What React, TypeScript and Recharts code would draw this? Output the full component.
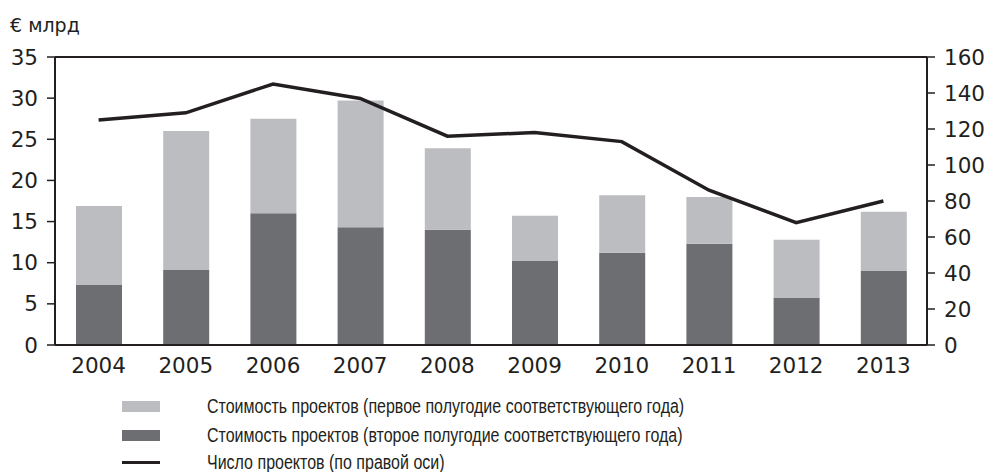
import { ComposedChart, Bar, Line, XAxis, YAxis, ReferenceLine } from 'recharts';

const years = ['2004', '2005', '2006', '2007', '2008', '2009', '2010', '2011', '2012', '2013'];
// € млрд, второе полугодие (нижняя часть столбца)
const secondHalf = [7.3, 9.1, 16.0, 14.3, 14.0, 10.2, 11.2, 12.3, 5.7, 9.0];
// € млрд, первое полугодие (верхняя часть столбца)
const firstHalf = [9.6, 16.9, 11.5, 15.4, 9.9, 5.5, 7.0, 5.7, 7.1, 7.2];
// число проектов, правая ось
const projectCount = [125, 129, 145, 137, 116, 118, 113, 86, 68, 80];

const leftTicks = [0, 5, 10, 15, 20, 25, 30, 35];
const rightTicks = [0, 20, 40, 60, 80, 100, 120, 140, 160];

const DARK = '#6d6e72';
const LIGHT = '#bcbdc0';
const INK = '#231f20';
const FONT = '"DejaVu Sans", sans-serif';
const LEGEND_FONT = '"Liberation Sans", sans-serif';

const data = years.map((y, i) => ({
  year: y,
  second: secondHalf[i],
  first: firstHalf[i],
  count: projectCount[i],
}));

const legendItems = [
  { label: 'Стоимость проектов (первое полугодие соответствующего года)', kind: 'light' },
  { label: 'Стоимость проектов (второе полугодие соответствующего года)', kind: 'dark' },
  { label: 'Число проектов (по правой оси)', kind: 'line' },
];

export default function App() {
  const tick = { fontSize: 21.5, fill: INK, fontFamily: FONT };
  return (
    <div style={{ position: 'absolute', left: 0, top: 0, width: 986, height: 472, background: '#fff' }}>
      <div
        style={{
          position: 'absolute', left: 10, top: 14, fontFamily: FONT, fontSize: 19, color: INK,
        }}
      >
        € млрд
      </div>
      <ComposedChart
        width={986}
        height={390}
        data={data}
        margin={{ top: 57, right: 0, bottom: 5, left: 0 }}
        barCategoryGap="23%"
      >
        <XAxis
          dataKey="year"
          tick={tick}
          tickLine={false}
          tickSize={0}
          tickMargin={13}
          height={40}
          axisLine={{ stroke: INK, strokeWidth: 2 }}
        />
        <YAxis
          yAxisId="left"
          domain={[0, 35]}
          ticks={leftTicks}
          width={55}
          tick={tick}
          tickSize={8}
          tickMargin={9}
          interval={0}
          axisLine={{ stroke: INK, strokeWidth: 2 }}
          tickLine={{ stroke: INK, strokeWidth: 1.5 }}
        />
        <YAxis
          yAxisId="right"
          orientation="right"
          domain={[0, 160]}
          ticks={rightTicks}
          width={59}
          tick={tick}
          tickSize={8}
          tickMargin={9}
          interval={0}
          axisLine={{ stroke: INK, strokeWidth: 2 }}
          tickLine={{ stroke: INK, strokeWidth: 1.5 }}
        />
        <ReferenceLine yAxisId="left" y={35} stroke={INK} strokeWidth={2} />
        <Bar yAxisId="left" dataKey="second" stackId="v" fill={DARK} barSize={46} isAnimationActive={false} />
        <Bar yAxisId="left" dataKey="first" stackId="v" fill={LIGHT} barSize={46} isAnimationActive={false} />
        <Line
          yAxisId="right"
          dataKey="count"
          type="linear"
          stroke={INK}
          strokeWidth={3.5}
          dot={false}
          isAnimationActive={false}
        />
      </ComposedChart>
      {legendItems.map((item, i) => {
        const top = [394, 423, 450][i];
        return (
          <div key={item.label} style={{ position: 'absolute', left: 122, top, height: 24, display: 'flex', alignItems: 'center' }}>
            <div style={{ width: 38, height: 24, display: 'flex', alignItems: 'center' }}>
              {item.kind === 'line' ? (
                <div style={{ width: 38, height: 3, background: INK }} />
              ) : (
                <div style={{ width: 38, height: 11, background: item.kind === 'light' ? LIGHT : DARK }} />
              )}
            </div>
            <div
              style={{
                marginLeft: 47,
                fontFamily: LEGEND_FONT,
                fontSize: 20,
                color: INK,
                whiteSpace: 'nowrap',
                transform: 'scaleX(0.8)',
                transformOrigin: 'left center',
              }}
            >
              {item.label}
            </div>
          </div>
        );
      })}
    </div>
  );
}
